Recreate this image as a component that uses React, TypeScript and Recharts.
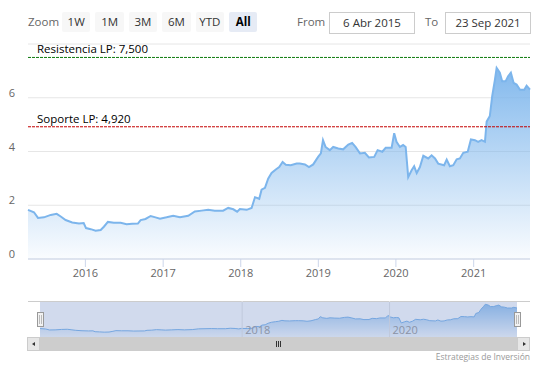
import React from 'react';
import { AreaChart, Area, XAxis, YAxis, CartesianGrid, ReferenceLine } from 'recharts';

const dates = [
  '2015-04-06', '2015-05-04', '2015-05-23', '2015-06-20', '2015-07-22', '2015-08-19', '2015-09-07', '2015-09-30', '2015-10-31', '2015-12-02', '2015-12-24',
  '2016-01-04', '2016-01-26', '2016-02-18', '2016-03-13', '2016-03-28', '2016-04-16', '2016-05-14', '2016-06-15', '2016-07-13', '2016-08-08', '2016-09-04', '2016-09-17', '2016-10-10', '2016-11-03', '2016-11-26', '2016-12-17',
  '2017-01-17', '2017-02-17', '2017-03-21', '2017-04-29', '2017-05-30', '2017-07-01', '2017-08-01', '2017-09-01', '2017-10-10', '2017-11-03', '2017-11-27', '2017-12-15', '2017-12-28',
  '2018-01-29', '2018-02-21', '2018-03-09', '2018-03-29', '2018-04-09', '2018-04-25', '2018-05-10', '2018-05-26', '2018-06-15', '2018-07-01', '2018-07-17', '2018-08-01', '2018-08-24', '2018-09-21', '2018-10-06', '2018-10-30', '2018-11-18', '2018-12-08', '2018-12-31',
  '2019-01-13', '2019-01-23', '2019-02-04', '2019-02-24', '2019-03-12', '2019-04-05', '2019-04-28', '2019-05-22', '2019-06-09', '2019-06-25', '2019-07-16', '2019-08-08', '2019-08-27', '2019-09-21', '2019-10-07', '2019-10-29', '2019-11-14', '2019-12-12', '2019-12-24',
  '2020-01-04', '2020-01-20', '2020-02-04', '2020-02-16', '2020-02-28', '2020-03-15', '2020-03-27', '2020-04-08', '2020-04-23', '2020-05-09', '2020-06-01', '2020-06-17', '2020-07-03', '2020-07-18', '2020-08-15', '2020-08-27', '2020-09-11', '2020-09-27', '2020-10-13', '2020-10-28', '2020-11-13', '2020-12-04', '2020-12-19',
  '2021-01-07', '2021-01-22', '2021-02-07', '2021-02-23', '2021-03-03', '2021-03-18', '2021-03-29', '2021-04-11', '2021-04-19', '2021-05-04', '2021-05-15', '2021-05-31', '2021-06-12', '2021-06-25', '2021-07-08', '2021-07-22', '2021-08-07', '2021-08-27', '2021-09-07', '2021-09-23',
];

const prices = [
  1.83, 1.74, 1.53, 1.55, 1.64, 1.68, 1.58, 1.45, 1.36, 1.32, 1.34,
  1.15, 1.11, 1.05, 1.08, 1.2, 1.38, 1.35, 1.35, 1.29, 1.31, 1.32, 1.45, 1.49, 1.6, 1.55, 1.5,
  1.55, 1.61, 1.55, 1.61, 1.77, 1.8, 1.83, 1.8, 1.8, 1.9, 1.85, 1.76, 1.86,
  1.83, 1.9, 2.3, 2.24, 2.58, 2.65, 2.99, 3.2, 3.33, 3.42, 3.61, 3.51, 3.49, 3.55, 3.55, 3.52, 3.42, 3.52, 3.8,
  3.93, 4.42, 4.17, 4.05, 4.17, 4.11, 4.08, 4.26, 4.32, 4.17, 3.93, 3.95, 3.78, 3.8, 4.05, 3.99, 4.14, 4.14, 4.68,
  4.36, 4.17, 4.24, 4.17, 3.05, 3.3, 3.45, 3.2, 3.42, 3.84, 3.74, 3.86, 3.74, 3.55, 3.49, 3.7, 3.45, 3.49, 3.71, 3.74, 3.95, 3.99, 4.45,
  4.42, 4.36, 4.42, 4.36, 5.11, 5.32, 6.05, 6.67, 7.11, 6.93, 6.61, 6.61, 6.8, 6.93, 6.55, 6.49, 6.3, 6.3, 6.45, 6.3,
];

const yTicks = [0, 2, 4, 6, 8];
const yearTicks = ['2016-01-01', '2017-01-01', '2018-01-01', '2019-01-01', '2020-01-01', '2021-01-01'];
const navigatorYears = ['2018-01-01', '2020-01-01'];
const rangeButtons = ['1W', '1M', '3M', '6M', 'YTD', 'All'];
const selectedRange = 'All';
const fromDate = '6 Abr 2015';
const toDate = '23 Sep 2021';
const resistance = { value: 7.5, label: 'Resistencia LP: 7,500' };
const support = { value: 4.92, label: 'Soporte LP: 4,920' };
const credits = 'Estrategias de Inversión';

const FONT = '"Open Sans", sans-serif';
const toTs = (d: string) => Date.parse(d + 'T00:00:00Z');
const data = dates.map((d, i) => ({ t: toTs(d), v: prices[i] }));
const xDomain = [data[0].t, data[data.length - 1].t];

const YTick = (props: any) => {
  const { x, y, payload } = props;
  if (payload.value === 8) return <g />;
  return (
    <text x={x} y={y - 1} textAnchor="end" fill="#666" fontSize={11}>
      {payload.value}
    </text>
  );
};

const PlotLabel = (props: any) => {
  const { viewBox, text } = props;
  return (
    <text x={viewBox.x + 9} y={viewBox.y - 4} fill="#000" fontSize={11.5}>
      {text}
    </text>
  );
};

const NavLabel = (props: any) => {
  const { viewBox, text } = props;
  return (
    <text x={viewBox.x + 3} y={viewBox.y + viewBox.height - 3} fill="#999" fontSize={11}>
      {text}
    </text>
  );
};

const box = (left: number, top: number, width: number, height: number): React.CSSProperties => ({
  position: 'absolute', left, top, width, height, boxSizing: 'border-box',
});

export default function App() {
  return (
    <div style={{ position: 'absolute', left: 0, top: 0, width: 546, height: 368, background: '#fff', fontFamily: FONT, overflow: 'hidden' }}>
      <div style={{ position: 'absolute', left: 0, top: 0 }}>
        <AreaChart width={546} height={290} data={data} margin={{ top: 44, right: 16, bottom: 6, left: 0 }}>
          <defs>
            <linearGradient id="mainFill" x1="0" y1="0" x2="0" y2="1">
              <stop offset="0" stopColor="#7cb5ec" stopOpacity={0.95} />
              <stop offset="1" stopColor="#7cb5ec" stopOpacity={0.04} />
            </linearGradient>
          </defs>
          <CartesianGrid vertical={false} stroke="#e6e6e6" />
          <XAxis
            dataKey="t"
            type="number"
            domain={xDomain}
            ticks={yearTicks.map(toTs)}
            tickFormatter={(t) => String(new Date(t).getUTCFullYear())}
            stroke="#ccd6eb"
            tickSize={8}
            height={25}
            tick={{ fill: '#666', fontSize: 11 }}
          />
          <YAxis
            domain={[0, 8]}
            ticks={yTicks}
            width={28}
            axisLine={false}
            tickLine={false}
            tickSize={0}
            tickMargin={13}
            tick={<YTick />}
          />
          <Area
            type="linear"
            dataKey="v"
            stroke="#7cb5ec"
            strokeWidth={2}
            fill="url(#mainFill)"
            fillOpacity={1}
            dot={false}
            activeDot={false}
            isAnimationActive={false}
          />
          <ReferenceLine y={resistance.value} stroke="#0d7a0d" strokeDasharray="3 1" label={<PlotLabel text={resistance.label} />} />
          <ReferenceLine y={support.value} stroke="#c40000" strokeDasharray="3 1" label={<PlotLabel text={support.label} />} />
        </AreaChart>
      </div>

      {/* range selector */}
      <div style={{ ...box(28, 12, 32, 20), fontSize: 11.5, color: '#666', lineHeight: '20px' }}>Zoom</div>
      {rangeButtons.map((b, i) => (
        <div
          key={b}
          style={{
            ...box(62 + i * 33.4, 12, 28.4, 20),
            background: b === selectedRange ? '#e6ebf5' : '#f7f7f7',
            color: b === selectedRange ? '#000' : '#333',
            fontWeight: b === selectedRange ? 700 : 400,
            fontSize: 11.5,
            lineHeight: '20px',
            textAlign: 'center',
            borderRadius: 2,
          }}
        >
          {b}
        </div>
      ))}
      <div style={{ ...box(297, 12, 30, 20), fontSize: 11.5, color: '#666', lineHeight: '20px' }}>From</div>
      <div style={{ ...box(329, 12, 86, 22), border: '1px solid #ccc', fontSize: 11.5, color: '#333', lineHeight: '20px', textAlign: 'center' }}>{fromDate}</div>
      <div style={{ ...box(425, 12, 16, 20), fontSize: 11.5, color: '#666', lineHeight: '20px' }}>To</div>
      <div style={{ ...box(445, 12, 86, 22), border: '1px solid #ccc', fontSize: 11.5, color: '#333', lineHeight: '20px', textAlign: 'center' }}>{toDate}</div>

      {/* navigator */}
      <div style={{ ...box(28, 301, 502, 1), background: '#ccc' }} />
      <div style={{ position: 'absolute', left: 40, top: 301 }}>
        <AreaChart width={477} height={36} data={data} margin={{ top: 0, right: 0, bottom: 0, left: 0 }}>
          <defs>
            <linearGradient id="navFill" x1="0" y1="0" x2="0" y2="1">
              <stop offset="0" stopColor="#7cb5ec" stopOpacity={0.8} />
              <stop offset="1" stopColor="#7cb5ec" stopOpacity={0.05} />
            </linearGradient>
          </defs>
          <XAxis dataKey="t" type="number" domain={xDomain} hide />
          <YAxis domain={[0, (max: number) => max * 1.1]} hide />
          {navigatorYears.map((y) => (
            <ReferenceLine
              key={y}
              x={toTs(y)}
              stroke="#e6e6e6"
              label={<NavLabel text={y.slice(0, 4)} />}
            />
          ))}
          <Area
            type="linear"
            dataKey="v"
            stroke="#7cb5ec"
            strokeWidth={1}
            fill="url(#navFill)"
            fillOpacity={1}
            dot={false}
            activeDot={false}
            isAnimationActive={false}
          />
        </AreaChart>
      </div>
      <div style={{ ...box(40, 302, 477, 35), background: 'rgba(102,133,194,0.3)' }} />
      {[37, 514].map((l) => (
        <div key={l} style={{ ...box(l, 312, 7, 15), background: '#f2f2f2', border: '1px solid #999' }}>
          <div style={{ ...box(1, 2, 1, 9), background: '#bbb' }} />
          <div style={{ ...box(3, 2, 1, 9), background: '#bbb' }} />
        </div>
      ))}

      {/* scrollbar */}
      <div style={{ ...box(27, 337, 503, 14), background: '#f2f2f2' }} />
      <div style={{ ...box(40, 337, 477, 14), background: '#cdcdcd' }} />
      <div style={{ ...box(27, 337, 13, 14), background: '#e6e6e6', border: '1px solid #ccc' }}>
        <div style={{ position: 'absolute', left: 4, top: 4, width: 0, height: 0, borderTop: '2.5px solid transparent', borderBottom: '2.5px solid transparent', borderRight: '3px solid #333' }} />
      </div>
      <div style={{ ...box(517, 337, 13, 14), background: '#e6e6e6', border: '1px solid #ccc' }}>
        <div style={{ position: 'absolute', left: 5, top: 4, width: 0, height: 0, borderTop: '2.5px solid transparent', borderBottom: '2.5px solid transparent', borderLeft: '3px solid #333' }} />
      </div>
      {[276, 278, 280].map((l) => (
        <div key={l} style={{ ...box(l, 341, 1, 6), background: '#333' }} />
      ))}

      <div style={{ ...box(380, 351, 150, 12), fontSize: 8.5, color: '#999', textAlign: 'right', lineHeight: '12px' }}>{credits}</div>
    </div>
  );
}
